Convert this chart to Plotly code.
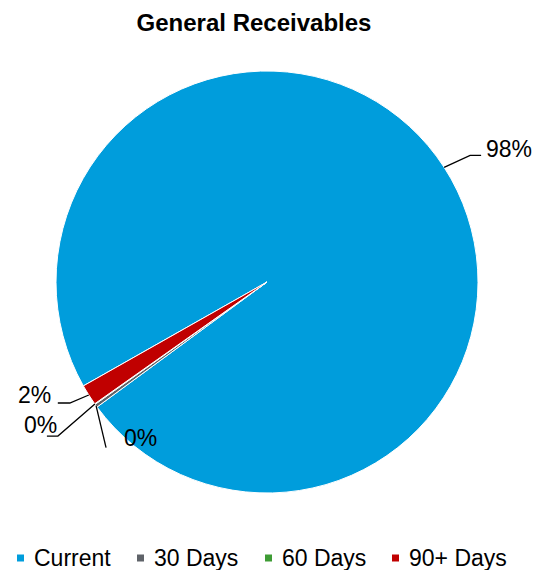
import plotly.graph_objects as go
import math

# ---- data ----
categories = ["Current", "30 Days", "60 Days", "90+ Days"]
values = [98.1, 0.25, 0.05, 1.6]
colors = ["#009DDC", "#5F6369", "#3E9C35", "#C00000"]
title_text = "General Receivables"

# ---- geometry / style ----
W, H = 535, 570
ML, MT, SIDE = 56, 71, 422
MR = W - ML - SIDE
MB = H - MT - SIDE
CX, CY, R = ML + SIDE / 2, MT + SIDE / 2, SIDE / 2
ROTATION = 240.5
FONT = "Liberation Sans, Arial, sans-serif"
TXT = 23

# label leader styling (pixel offsets from the slice's rim point)
label_style = {
    "Current": dict(elbow=(26, -12), end=(37, -12), text=(40, -18), anchor="left"),
    "30 Days": dict(elbow=(10, 42), end=(10, 42), text=(26, 32), anchor="left"),
    "60 Days": dict(elbow=(-37, 32), end=(-48, 32), text=(-36, 21), anchor="right"),
    "90+ Days": dict(elbow=(-19, 8), end=(-31, 8), text=(-36, 0), anchor="right"),
}

# legend layout (pixels)
LEG_Y = 558
LEG_SQ = 7
LEG_X = [17, 137, 265, 392]     # square left edges
LEG_TEXT_GAP = 15               # square left edge -> text start


def px2paper(px, py):
    return (px - ML) / SIDE, (MT + SIDE - py) / SIDE


fig = go.Figure(
    go.Pie(
        labels=categories,
        values=values,
        marker=dict(colors=colors, line=dict(color="white", width=1)),
        sort=False,
        direction="clockwise",
        rotation=ROTATION,
        textinfo="none",
        hoverinfo="label+percent",
        domain=dict(x=[0, 1], y=[0, 1]),
        showlegend=False,
    )
)

total = sum(values)
cum = 0.0
shapes = []
annotations = []
for cat, v in zip(categories, values):
    mid = ROTATION + (cum + v / 2) / total * 360.0
    cum += v
    a = math.radians(mid)
    rx, ry = CX + R * math.sin(a), CY - R * math.cos(a)
    st = label_style[cat]
    pts = [(rx, ry), (rx + st["elbow"][0], ry + st["elbow"][1]), (rx + st["end"][0], ry + st["end"][1])]
    ppts = [px2paper(*p) for p in pts]
    path = "M {:.5f},{:.5f} L {:.5f},{:.5f} L {:.5f},{:.5f}".format(*[c for p in ppts for c in p])
    shapes.append(dict(type="path", xref="paper", yref="paper", path=path,
                       line=dict(color="black", width=1.3)))
    tx, ty = px2paper(rx + st["text"][0], ry + st["text"][1])
    annotations.append(dict(
        x=tx, y=ty, xref="paper", yref="paper", showarrow=False,
        text="{:.0f}%".format(v / total * 100),
        xanchor=st["anchor"], yanchor="middle",
        font=dict(family=FONT, size=TXT, color="black"),
    ))

# manual legend
for cat, col, lx in zip(categories, colors, LEG_X):
    x0, y0 = px2paper(lx, LEG_Y + LEG_SQ / 2)
    x1, y1 = px2paper(lx + LEG_SQ, LEG_Y - LEG_SQ / 2)
    shapes.append(dict(type="rect", xref="paper", yref="paper",
                       x0=x0, y0=y0, x1=x1, y1=y1,
                       fillcolor=col, line=dict(width=0)))
    tx, ty = px2paper(lx + LEG_TEXT_GAP, LEG_Y)
    annotations.append(dict(
        x=tx, y=ty, xref="paper", yref="paper", showarrow=False,
        text=cat, xanchor="left", yanchor="middle",
        font=dict(family=FONT, size=TXT, color="black"),
    ))

fig.update_layout(
    width=W, height=H,
    margin=dict(l=ML, r=MR, t=MT, b=MB),
    paper_bgcolor="white", plot_bgcolor="white",
    title=dict(text=title_text, x=254 / W, xref="container", xanchor="center",
               y=1 - 23 / H, yref="container", yanchor="middle",
               font=dict(family=FONT, size=24, color="black", weight=700)),
    showlegend=False,
    shapes=shapes,
    annotations=annotations,
)

fig.write_html("out.html")
